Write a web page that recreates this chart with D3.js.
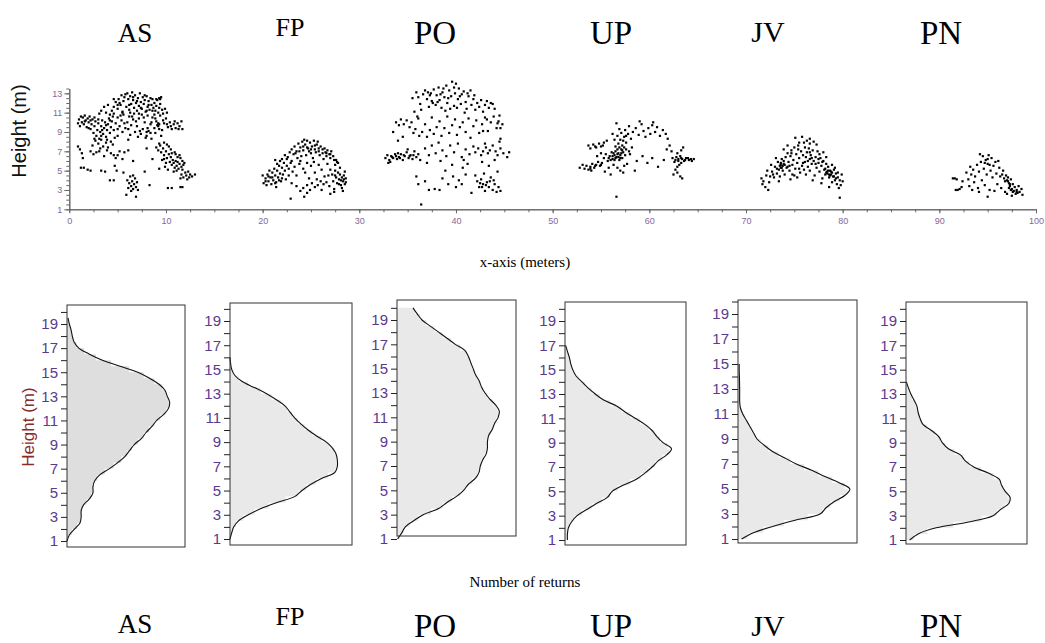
<!DOCTYPE html>
<html>
<head>
<meta charset="utf-8">
<script src="https://cdn.jsdelivr.net/npm/d3@7"></script>
<style>
  body { margin: 0; background: #fff; }
</style>
</head>
<body>
<svg id="chart" width="1045" height="643"></svg>
<script>
'use strict';

// названия участков
const treeNames = ['AS', 'FP', 'PO', 'UP', 'JV', 'PN'];

// облака точек (x в метрах, высота в метрах)
const asPoints = [
  [4.4,11.2],[4.6,11.6],[4.8,12.1],[5.0,11.4],[5.1,12.4],[5.3,11.8],[5.4,12.8],[5.5,11.1],[5.6,12.2],[5.8,12.9],
  [5.9,11.6],[6.0,13.0],[6.1,12.4],[6.2,11.3],[6.3,12.7],[6.4,11.9],[6.5,13.1],[6.6,12.3],[6.7,11.5],[6.8,12.8],
  [6.9,12.0],[7.0,11.2],[7.1,12.5],[7.2,11.7],[7.3,13.0],[7.4,12.1],[7.5,11.4],[7.6,12.6],[7.7,11.9],[7.8,12.3],
  [7.9,11.1],[8.0,12.7],[8.1,11.6],[8.2,12.2],[8.3,11.3],[8.4,12.5],[8.5,11.8],[8.6,12.4],[8.7,11.5],[8.8,12.0],
  [8.9,11.2],[9.0,11.7],[9.1,12.3],[9.2,11.0],[9.3,11.5],[9.4,11.9],[9.6,11.3],[9.7,10.9],[9.9,11.4],[10.1,11.0],
  [9.3,12.5],[9.4,12.4],[9.5,12.6],[3.3,11.2],[3.6,11.6],[3.8,11.0],[4.0,11.8],[4.2,10.8],[3.1,10.9],
  [0.9,9.9],[1.0,10.3],[1.1,9.6],[1.2,10.6],[1.3,10.0],[1.4,10.5],[1.5,9.8],[1.6,10.7],[1.7,10.2],[1.8,9.5],
  [1.9,10.4],[2.0,10.0],[2.1,10.6],[2.2,9.3],[2.3,9.8],[2.4,10.3],[2.5,8.9],[2.6,9.6],[2.7,10.1],[2.8,8.6],
  [2.9,9.2],[3.0,9.9],[3.1,8.3],[3.2,9.0],[3.3,9.6],[3.4,10.2],[3.5,8.8],[3.6,9.4],[3.7,10.0],[3.8,8.5],
  [3.9,9.2],[4.0,9.8],[4.1,10.4],[4.2,8.9],[4.3,9.5],[4.4,10.1],[4.5,10.6],[4.6,9.2],[4.8,9.9],[5.0,10.5],
  [5.2,9.6],[5.4,10.2],[5.6,10.8],[5.8,9.4],[6.0,10.0],[6.2,10.6],[6.4,9.7],[6.6,10.3],[6.8,9.0],[7.0,9.6],
  [7.2,10.4],[7.4,8.8],[7.6,9.3],[7.8,10.0],[8.0,8.6],[8.2,9.1],[8.4,9.8],[8.6,10.5],[8.8,9.4],[9.0,10.1],
  [9.2,9.6],[9.4,10.7],[9.6,9.2],[9.8,9.9],[10.0,10.4],[10.2,9.5],[10.4,10.0],[10.6,9.3],[10.8,9.8],[11.0,9.4],
  [11.2,9.9],[11.4,9.6],[11.6,10.1],[11.7,9.3],[8.1,10.7],[7.5,10.8],[6.7,10.9],[5.5,11.0],[8.9,8.9],[9.5,8.6],
  [8.5,8.3],[7.1,8.5],[6.3,8.7],[5.0,8.6],[9.1,9.7],[9.3,9.8],[9.2,9.9],[8.0,9.0],[8.4,8.9],[7.9,8.4],
  [2.7,8.1],[3.0,7.8],[3.3,8.2],[3.5,7.5],[3.8,7.9],[4.0,7.4],[4.3,8.0],[4.5,7.7],[2.4,7.6],[3.2,7.3],
  [0.9,7.5],[1.1,7.2],[1.3,6.8],[1.4,6.3],[1.2,5.3],[1.5,5.3],[1.9,5.1],[2.2,5.0],[2.5,6.7],[2.8,6.9],
  [3.1,7.0],[3.3,5.0],[2.2,7.0],[3.6,6.5],[3.9,7.1],[4.3,6.8],[4.6,6.6],[4.8,6.3],[5.0,6.6],[4.7,5.5],
  [4.9,5.0],[5.2,7.0],[5.5,6.2],[5.7,6.9],[6.1,7.1],[4.2,4.0],[4.6,4.0],[5.6,4.8],[6.6,6.0],[3.7,4.9],
  [6.0,4.0],[6.2,3.7],[6.3,4.4],[6.4,3.4],[6.5,3.9],[6.6,3.1],[6.7,3.6],[6.8,4.2],[6.9,3.3],[7.0,3.8],
  [6.4,2.9],[6.6,4.5],[7.1,3.0],[5.9,2.5],[6.9,2.3],[6.1,3.2],
  [9.0,7.4],[9.2,7.1],[9.4,7.6],[9.5,6.9],[9.7,7.3],[9.8,6.6],[10.0,7.0],[10.1,6.3],[10.3,6.7],[10.4,5.9],
  [10.5,6.4],[10.6,5.6],[10.7,6.1],[10.8,5.8],[10.9,5.3],[11.0,6.0],[11.1,5.5],[11.2,5.9],[11.3,5.2],[11.4,5.7],
  [11.5,6.3],[11.6,5.4],[11.7,6.0],[11.8,5.6],[10.2,5.1],[9.9,5.4],[9.6,6.1],[10.3,7.5],[11.0,6.7],[9.3,7.8],
  [10.8,4.9],[11.9,5.8],[11.6,4.6],[11.8,4.3],[12.0,4.8],[12.1,4.5],[12.3,4.9],[12.5,4.6],[12.7,4.4],[13.0,4.6],
  [12.2,4.1],[11.5,4.2],[8.3,3.5],[10.2,3.2],[10.6,3.2],[11.5,3.3],[11.7,3.3],[9.3,5.2],[8.6,6.2],[7.8,4.9],[8.0,7.3],
  [2.2,10.2],[2.6,10.5],[3.0,10.3],[3.4,9.2],[3.8,9.7],[4.2,10.2],[4.6,10.9],[5.0,9.3],[5.3,10.7],[5.7,9.9],
  [6.1,9.3],[6.5,10.6],[6.9,10.1],[7.3,9.1],[7.7,10.5],[8.1,9.4],[8.5,10.0],[8.9,10.4],[9.3,9.3],[9.7,10.2],
  [10.1,9.8],[10.5,9.6],[10.9,10.1],[11.3,9.3],[5.2,12.0],[5.7,12.6],[6.2,11.8],[6.6,12.6],[7.0,12.2],[7.4,11.5],
  [7.8,12.8],[8.2,11.8],[8.6,11.2],[9.0,12.4],[5.0,11.8],[4.6,12.4],[6.3,11.0],[7.2,10.9],[8.0,11.2],[8.8,10.8],
  [2.0,9.4],[1.6,10.1],[2.6,8.3],[3.3,8.6],[3.9,8.2],[4.7,8.4],[5.5,9.0],[6.1,8.2],[9.8,7.9],[10.1,7.7],
  [10.5,7.2],[10.9,6.9],[11.2,6.4],[11.4,6.6],[10.6,6.8],[9.8,6.2],[11.7,5.1],[12.4,4.3],[11.1,5.0],[10.0,5.8]
];

const fpPoints = [
  [23.0,7.2],[23.3,7.5],[23.5,7.0],[23.7,7.8],[23.9,7.4],[24.1,8.0],[24.2,7.1],[24.4,7.7],[24.6,8.1],[24.7,7.3],
  [24.9,7.9],[25.1,7.5],[25.3,8.1],[25.4,7.2],[25.6,7.7],[25.8,7.0],[26.0,7.5],[26.2,6.8],[26.4,7.3],[26.5,6.9],
  [26.7,7.1],[26.9,6.7],[27.1,7.0],[27.3,6.5],[27.0,6.3],[26.6,6.5],[25.9,6.6],[25.5,6.9],[25.0,6.8],[24.5,6.6],
  [24.0,6.5],[23.6,6.3],[23.2,6.7],[22.8,6.9],[22.6,6.4],[22.3,6.6],[22.0,6.2],[21.8,6.0],[21.5,5.7],[21.3,6.1],
  [24.8,7.0],[25.2,6.3],[26.3,6.2],[27.6,6.1],[27.8,5.8],[27.5,5.6],[24.3,8.2],[25.7,8.0],
  [20.0,4.5],[20.1,3.7],[20.3,4.2],[20.4,3.5],[20.5,4.6],[20.6,3.9],[20.8,4.3],[20.9,3.6],[21.0,4.8],[21.1,4.0],
  [21.2,5.2],[21.3,4.5],[21.4,3.8],[21.5,5.0],[21.6,4.3],[21.7,5.5],[21.8,4.7],[21.9,3.9],[22.0,5.3],[22.1,4.6],
  [22.2,5.8],[22.3,5.0],[22.5,5.5],[22.7,4.5],[22.9,5.8],[23.1,4.9],[23.3,5.4],[20.7,5.0],[21.4,3.3],[22.4,4.1],[23.0,3.7],
  [23.8,5.7],[24.2,5.2],[24.6,5.8],[25.0,5.5],[25.4,4.8],[25.8,5.6],[26.1,5.1],[26.4,4.4],[24.8,4.2],[23.5,4.5],
  [27.0,5.1],[27.2,4.6],[27.3,3.9],[27.5,5.0],[27.6,4.3],[27.7,3.7],[27.8,4.8],[27.9,4.1],[28.0,4.6],[28.1,3.5],
  [28.2,4.3],[28.3,3.9],[28.4,4.5],[28.5,3.6],[28.6,4.2],[28.2,3.2],[27.4,3.1],[26.9,3.4],[26.6,3.8],[26.3,3.6],
  [26.0,3.9],[25.7,3.5],[25.4,3.3],[25.1,3.7],[24.9,3.0],[24.6,3.5],[24.2,3.2],[23.9,2.9],[23.5,3.4],[22.9,2.1],
  [24.3,2.3],[24.6,2.7],[27.0,2.6],[27.4,2.8],[28.3,2.9],[26.1,3.0],[25.6,4.1],[27.7,5.9],[28.0,5.3],[28.5,4.9],
  [22.5,6.2],[23.0,6.0],[23.4,6.8],[23.8,7.0],[24.2,7.5],[24.6,7.4],[25.0,7.2],[25.4,7.6],[25.8,7.3],[26.2,7.2],
  [26.6,6.8],[27.0,6.7],[27.4,6.1],[21.0,4.3],[21.3,3.7],[21.7,4.0],[22.0,4.2],[20.3,3.9],[20.6,4.4],[28.1,4.0],
  [28.4,4.1],[27.9,3.6],[28.6,3.8],[27.5,4.5],[22.7,5.2],[23.9,6.0],[25.3,5.9],[26.7,5.7],[24.4,4.8],[26.8,4.5]
];

const poPoints = [
  [35.9,13.1],[36.1,12.6],[36.3,11.9],[36.6,12.9],[36.8,13.3],[37.0,12.4],[37.2,11.6],[37.4,13.0],[37.5,12.2],[37.7,13.4],
  [37.9,11.8],[38.0,12.8],[38.2,13.6],[38.3,12.3],[38.5,11.5],[38.6,13.1],[38.8,12.6],[39.0,13.8],[39.1,12.0],[39.3,13.3],
  [39.5,12.7],[39.6,14.2],[39.8,11.7],[39.9,13.0],[40.0,14.0],[40.2,12.4],[40.3,13.5],[40.5,11.9],[40.6,12.9],[40.8,13.2],
  [41.0,12.1],[41.1,11.4],[41.3,12.7],[41.5,13.3],[41.6,11.8],[41.8,12.4],[42.0,11.3],[42.2,12.0],[42.4,11.6],[42.6,12.3],
  [42.8,11.1],[43.0,11.8],[43.2,12.2],[43.4,11.5],[43.6,12.0],[43.8,11.9],[44.0,11.4],[37.6,12.0],[38.9,11.2],[40.9,11.0],
  [36.4,11.3],[35.7,11.1],[35.5,12.5],[36.0,10.6],[41.9,12.8],[39.4,11.4],
  [33.8,10.0],[34.1,9.7],[34.3,10.3],[34.6,9.8],[34.9,10.2],[35.2,9.5],[35.4,10.0],[35.6,8.9],[35.8,9.3],[36.1,10.4],
  [36.2,8.6],[36.5,9.0],[36.8,9.8],[37.0,8.5],[37.3,9.2],[37.5,10.5],[37.7,8.8],[38.0,9.5],[38.3,10.1],[38.5,8.6],
  [38.8,9.4],[39.1,10.6],[39.3,8.9],[39.6,9.7],[39.9,10.3],[40.1,8.7],[40.4,9.5],[40.7,10.0],[41.0,9.0],[41.3,10.4],
  [41.5,8.4],[41.8,9.6],[42.1,10.2],[42.4,8.9],[42.7,9.8],[43.0,10.5],[43.3,9.1],[43.6,10.0],[43.9,10.6],[44.2,9.4],
  [44.4,10.1],[44.6,8.3],[44.8,9.8],[44.5,10.7],[34.5,8.5],[33.5,9.0],[34.0,8.1],
  [32.7,6.3],[32.9,6.6],[33.1,6.1],[33.3,6.5],[33.5,6.3],[33.7,6.7],[33.9,6.2],[34.1,6.4],[34.3,6.7],[34.5,6.1],
  [34.7,6.5],[34.9,6.9],[35.1,6.3],[35.3,6.6],[35.5,6.2],[35.7,7.0],[35.9,6.4],[36.1,6.7],[36.3,6.1],[33.2,5.9],
  [34.0,6.8],[35.0,7.2],[33.0,5.8],
  [36.8,7.3],[37.2,6.6],[37.5,7.6],[37.9,6.8],[38.2,7.9],[38.6,7.1],[39.0,6.5],[39.4,7.6],[39.8,6.9],[40.2,7.8],
  [40.6,6.4],[41.0,7.2],[41.4,6.7],[41.8,7.5],[42.0,6.9],[42.3,7.3],[42.6,6.6],[42.8,7.0],[43.1,7.4],[43.3,6.8],
  [43.5,7.1],[43.8,7.6],[44.1,7.0],[44.3,6.6],[44.6,7.3],[44.9,6.8],[45.3,6.4],[45.5,6.9],[43.0,7.8],[44.5,8.0],
  [37.0,5.8],[38.4,6.0],[39.6,5.6],[40.8,6.1],[41.2,5.7],[42.7,5.9],[43.4,5.5],[44.0,6.1],
  [35.9,4.4],[36.1,3.6],[36.8,3.9],[37.2,3.0],[37.8,3.1],[38.3,3.0],[38.6,4.2],[39.2,3.6],[39.7,4.4],[40.0,3.3],
  [40.3,4.0],[40.6,3.6],[41.0,4.6],[41.6,2.7],[42.0,4.5],[42.2,3.9],[42.4,3.3],[42.6,4.1],[42.8,3.6],[43.0,2.9],
  [43.2,3.8],[43.4,3.3],[43.6,4.3],[43.8,3.0],[44.0,3.6],[44.2,2.8],[44.4,3.3],[44.6,2.9],[42.9,4.7],[43.9,4.0],
  [36.4,1.5],[38.9,5.0],[40.7,5.3],[44.3,4.9],
  [37.3,12.8],[38.1,12.1],[38.7,13.5],[39.2,12.5],[39.8,13.6],[40.4,12.7],[41.2,13.0],[37.1,13.1],[38.4,12.9],[40.1,11.5],
  [33.4,6.4],[33.8,6.5],[34.2,6.3],[34.6,6.6],[35.2,6.5],[35.6,6.6],[42.7,3.3],[43.1,3.5],[43.5,3.9],[42.5,3.7],
  [44.3,9.9],[44.6,9.4],[43.2,10.3],[42.8,9.1]
];

const upPoints = [
  [52.8,5.3],[53.1,5.6],[53.3,5.2],[53.5,5.5],[53.7,5.1],[53.9,5.4],[54.1,5.7],[54.3,5.3],[54.5,5.6],[54.7,5.9],
  [54.9,5.5],[55.1,5.8],[53.7,7.6],[53.9,7.3],[54.2,7.7],[54.5,7.4],[54.8,7.8],[55.0,7.5],[55.3,7.9],[55.6,8.1],
  [54.6,6.5],[55.0,6.8],[55.3,6.3],[55.5,6.7],[55.7,6.0],[55.9,6.5],[56.1,6.9],[56.2,6.2],[56.4,6.6],[56.5,7.0],
  [56.6,6.4],[56.8,6.8],[56.9,6.1],[57.0,6.6],[57.1,7.2],[57.2,6.3],[57.3,6.9],[57.4,5.5],[57.5,6.6],[56.3,5.6],
  [56.7,5.3],[57.0,5.0],[57.3,4.8],[56.0,4.6],[55.8,5.3],[56.5,7.5],[56.8,7.8],[57.0,8.2],[57.2,7.6],[57.4,8.5],
  [57.6,7.9],[57.8,8.8],[57.1,8.9],[56.7,8.6],[56.4,8.2],[56.2,8.8],[57.5,9.2],[57.9,9.6],[56.6,9.9],[58.1,8.3],
  [58.2,7.4],[58.0,6.7],[57.7,5.7],[58.3,9.0],[58.6,9.4],[58.9,8.7],[59.2,9.8],[59.4,9.1],[59.6,8.5],[59.9,9.4],
  [60.1,8.8],[60.3,9.7],[60.6,9.0],[60.8,9.5],[61.1,8.6],[61.4,9.2],[61.7,8.8],[61.9,8.3],[59.0,10.1],[60.4,10.0],
  [58.7,6.0],[59.3,6.5],[59.8,5.8],[60.3,6.3],[60.9,5.4],[61.5,6.1],[61.8,7.2],[62.1,7.6],[62.3,7.0],[62.4,6.3],
  [62.6,5.9],[62.8,6.4],[63.0,6.0],[63.2,6.5],[63.4,6.2],[63.6,6.0],[63.8,6.3],[64.1,6.1],[64.4,6.0],[64.6,6.2],
  [62.9,6.8],[63.3,7.1],[63.5,7.4],[63.1,5.6],[62.7,5.1],[62.9,4.8],[63.2,4.4],[63.4,4.2],[62.5,4.6],[56.6,2.3],
  [58.5,5.0],[55.4,4.9],[54.0,5.0],[57.9,7.0],[56.9,9.3],
  [56.2,6.5],[56.4,6.1],[56.5,6.3],[56.7,6.7],[56.8,6.4],[57.0,6.3],[57.1,6.8],[56.3,6.8],[55.8,6.3],[56.0,6.1],
  [56.9,7.4],[57.2,7.1],[56.7,7.2],[57.4,7.4],[57.6,7.2],[55.2,7.6],[54.4,7.5],[57.3,8.1],[57.6,8.6],[63.0,6.2],
  [63.3,6.3],[63.7,6.1],[64.0,6.3],[64.3,6.2],[62.7,6.1],[63.3,5.8],[62.9,5.4],[53.9,5.2],[54.4,5.5],[55.0,5.6]
];

const jvPoints = [
  [71.6,4.2],[71.7,3.6],[71.8,3.9],[72.0,3.3],[72.1,4.5],[72.3,3.0],[72.4,3.8],[72.2,5.0],[72.5,4.4],[72.7,4.9],
  [72.9,4.3],[73.0,5.4],[73.2,4.7],[73.3,5.9],[73.4,5.1],[73.5,4.4],[73.6,5.6],[73.7,6.2],[73.8,5.0],[73.9,5.7],
  [74.0,4.6],[74.1,6.4],[74.2,5.3],[74.3,6.8],[74.4,5.9],[74.5,5.0],[74.6,6.5],[74.7,7.1],[74.8,5.6],[74.9,6.1],
  [75.0,7.4],[75.1,5.2],[75.2,6.7],[75.3,5.8],[75.4,7.6],[75.5,6.3],[75.6,4.8],[75.7,7.0],[75.8,5.5],[75.9,6.6],
  [76.0,7.9],[76.1,5.9],[76.2,4.6],[76.3,6.9],[76.4,5.4],[76.5,7.3],[76.6,6.2],[76.6,7.8],[76.6,8.3],[76.6,5.0],
  [76.7,6.6],[76.8,5.7],[76.9,7.1],[77.0,6.0],[77.1,4.5],[77.2,6.4],[77.3,5.3],[77.4,7.0],[77.5,5.8],[77.6,4.9],
  [77.7,6.3],[77.8,5.5],[77.9,4.2],[78.0,6.0],[78.1,5.1],[78.2,4.6],[78.3,5.7],[78.4,4.9],[78.5,5.4],[78.6,4.3],
  [78.7,5.0],[78.8,4.6],[78.9,3.8],[79.0,4.4],[79.1,5.1],[79.2,4.0],[79.3,4.7],[79.4,3.6],[79.5,4.3],[79.6,3.2],
  [79.7,4.0],[79.8,3.5],[79.9,4.6],[80.0,3.9],[79.7,2.2],[78.6,3.3],[77.8,3.7],[76.9,4.0],[75.3,4.3],[74.6,4.1],
  [73.4,3.9],[75.1,8.4],[75.8,8.5],[74.3,7.6],[73.9,7.2],[77.3,7.7],[78.0,6.9],[78.3,6.4],[74.8,4.6],[73.1,6.3],
  [72.6,5.6],[76.3,8.1],[75.5,7.9],[77.0,8.0],[76.0,5.1],[75.0,4.5],[78.9,5.6],[79.2,5.3],[73.6,5.3],[73.8,5.5],
  [78.4,4.7],[78.6,4.6],[78.8,4.9],
  [73.2,5.2],[73.5,5.5],[73.7,5.3],[74.0,5.6],[73.6,5.8],[73.9,6.0],[74.3,5.4],[75.5,5.2],[75.9,5.8],[76.2,6.4],
  [76.4,6.0],[76.8,6.3],[77.2,5.7],[77.5,6.2],[77.9,5.9],[78.2,5.2],[78.3,4.8],[78.5,5.0],[78.7,4.5],[78.9,4.8],
  [79.1,4.4],[79.3,4.2],[79.5,4.8],[74.7,6.8],[75.4,7.2],[76.1,7.4],[76.6,6.9],[77.6,6.7],[74.5,5.5],[72.8,4.6]
];

const pnPoints = [
  [91.4,4.2],[91.6,4.2],[91.8,4.1],[91.7,3.0],[91.9,3.0],[92.1,3.1],[92.4,3.9],[92.8,4.8],[93.0,4.1],[93.1,3.4],
  [93.2,5.4],[93.3,4.6],[93.4,3.0],[93.5,5.1],[93.6,3.8],[93.7,4.4],[93.9,5.6],[94.0,3.2],[94.1,4.9],[94.3,5.9],
  [94.4,4.0],[94.5,6.5],[94.6,5.2],[94.7,3.5],[94.8,6.1],[94.9,4.6],[95.0,5.7],[95.1,6.6],[95.2,3.0],[95.3,5.0],
  [95.4,6.3],[95.5,4.3],[95.6,5.5],[95.7,2.9],[95.8,5.9],[95.9,4.7],[96.0,3.6],[96.2,5.3],[96.3,4.4],[96.4,3.2],
  [96.6,5.0],[96.7,4.2],[96.8,3.9],[96.9,4.5],[97.0,4.0],[97.1,4.3],[97.2,3.7],[97.3,3.4],[97.4,4.1],[97.5,3.1],
  [97.6,3.6],[97.7,2.9],[97.8,3.3],[97.9,2.6],[98.0,3.0],[98.1,2.7],[98.2,3.4],[98.3,2.8],[98.5,3.1],[98.6,2.5],
  [97.0,2.6],[96.8,2.8],[95.0,2.3],[97.5,2.4],[94.1,2.8],[92.3,3.3],[96.1,6.0],[94.2,6.7],
  [97.2,3.2],[97.4,3.0],[97.6,2.8],[97.1,3.9],[97.3,3.6],[95.2,5.6],[95.0,6.2],[94.7,5.8],[96.5,4.6],[98.0,2.8]
];

// вертикальные профили: высота (м) и относительное число отражений
const profileHeights = [1,1.5,2,2.5,3,3.5,4,4.5,5,5.5,6,6.5,7,7.5,8,8.5,9,9.5,10,10.5,
  11,11.5,12,12.5,13,13.5,14,14.5,15,15.5,16,16.5,17,17.5,18,18.5,19,19.5,20];

const asProfile = [0,0.02,0.065,0.11,0.12,0.12,0.14,0.19,0.22,0.22,0.235,0.28,0.36,0.43,0.49,0.53,0.57,0.63,0.67,0.72,
  0.76,0.82,0.86,0.87,0.85,0.83,0.78,0.70,0.60,0.45,0.30,0.19,0.10,0.06,0.045,0.035,0.02,0.008,null];
const fpProfile = [0,0.014,0.03,0.07,0.15,0.25,0.38,0.53,0.59,0.66,0.75,0.86,0.88,0.88,0.87,0.84,0.79,0.71,0.64,0.58,
  0.53,0.49,0.45,0.38,0.30,0.20,0.10,0.04,0.014,0.005,0,null,null,null,null,null,null,null,null];
const poProfile = [0.005,0.04,0.07,0.14,0.22,0.35,0.42,0.50,0.56,0.60,0.66,0.69,0.70,0.72,0.75,0.76,0.76,0.77,0.80,0.82,
  0.85,0.86,0.83,0.78,0.74,0.71,0.69,0.66,0.64,0.62,0.60,0.57,0.49,0.42,0.35,0.28,0.21,0.17,0.134];
const upProfile = [0.02,0.02,0.028,0.055,0.10,0.18,0.26,0.35,0.39,0.48,0.59,0.66,0.72,0.77,0.84,0.88,0.81,0.76,0.72,0.66,
  0.58,0.50,0.43,0.32,0.25,0.19,0.14,0.09,0.064,0.047,0.036,0.02,0.005,null,null,null,null,null,null];
const jvProfile = [0.03,0.13,0.29,0.48,0.69,0.74,0.81,0.90,0.94,0.85,0.73,0.62,0.49,0.39,0.29,0.22,0.16,0.13,0.10,0.07,
  0.04,0.02,0.014,0.014,0.014,0.013,0.012,0.01,0.01,null,null,null,null,null,null,null,null,null,null];
const pnProfile = [0.03,0.10,0.25,0.53,0.72,0.78,0.85,0.86,0.82,0.79,0.77,0.68,0.56,0.49,0.45,0.35,0.30,0.27,0.21,0.14,
  0.116,0.10,0.09,0.066,0.04,0.02,0.003,null,null,null,null,null,null,null,null,null,null,null,null];

// подписи делений
const xTickLabels = [0,10,20,30,40,50,60,70,80,90,100];
const yTickLabels = [1,3,5,7,9,11,13];
const profileTickLabels = [1,3,5,7,9,11,13,15,17,19];

const clouds = [asPoints, fpPoints, poPoints, upPoints, jvPoints, pnPoints];
const profiles = [asProfile, fpProfile, poProfile, upProfile, jvProfile, pnProfile];

const svg = d3.select('#chart');
const SANS = 'Liberation Sans, Arial, sans-serif';
const SERIF = 'Liberation Serif, Times New Roman, serif';

// ---------- верхний график: облака точек ----------
const x = d3.scaleLinear().domain([0, 100]).range([69.3, 1036]);
const y = d3.scaleLinear().domain([1, 13.5]).range([209.3, 88.5]);

const scatterG = svg.append('g');

// второстепенные деления
scatterG.append('g')
  .attr('transform', `translate(0,${y(1)})`)
  .call(d3.axisBottom(x).tickValues(d3.range(0, 100.1, 2.5)).tickSize(3).tickSizeOuter(0).tickFormat(''));
scatterG.append('g')
  .attr('transform', `translate(${x(0)},0)`)
  .call(d3.axisLeft(y).tickValues(d3.range(1, 13.6, 0.5)).tickSize(3).tickSizeOuter(0).tickFormat(''));

scatterG.append('g')
  .attr('transform', `translate(0,${y(1)})`)
  .call(d3.axisBottom(x).tickValues(xTickLabels).tickSize(4).tickSizeOuter(0).tickPadding(4));
scatterG.append('g')
  .attr('transform', `translate(${x(0)},0)`)
  .call(d3.axisLeft(y).tickValues(yTickLabels).tickSize(5).tickSizeOuter(0).tickPadding(2));

scatterG.selectAll('.domain, .tick line').attr('stroke', '#666');
scatterG.selectAll('.tick text')
  .attr('fill', '#84679a')
  .style('font-family', SANS)
  .style('font-size', '9px');

scatterG.append('text')
  .attr('transform', 'translate(26,131) rotate(-90)')
  .attr('text-anchor', 'middle')
  .style('font-family', SANS)
  .style('font-size', '20px')
  .attr('fill', '#111')
  .text('Height (m)');

// точки — маленькие квадраты
scatterG.append('g')
  .selectAll('rect')
  .data(clouds.flat())
  .enter()
  .append('rect')
  .attr('x', d => x(d[0]) - 1.1)
  .attr('y', d => y(d[1]) - 1.1)
  .attr('width', 2.2)
  .attr('height', 2.2)
  .attr('fill', '#000');

svg.append('text')
  .attr('x', 525).attr('y', 267)
  .attr('text-anchor', 'middle')
  .style('font-family', SERIF)
  .style('font-size', '15px')
  .text('x-axis (meters)');

// ---------- заголовки ----------
const titleX = [135, 290, 435, 611, 768, 941];
const titleSize = [27, 26, 33, 33, 30, 33];
const titleTopY = [42, 36, 44, 44, 42, 44];
const titleBottomY = [633, 625, 637, 637, 636, 637];

treeNames.forEach((name, i) => {
  [titleTopY[i], titleBottomY[i]].forEach(ty => {
    svg.append('text')
      .attr('x', titleX[i]).attr('y', ty)
      .attr('text-anchor', 'middle')
      .style('font-family', SERIF)
      .style('font-size', titleSize[i] + 'px')
      .attr('fill', '#000')
      .text(name);
  });
});

// ---------- нижние панели: профили ----------
const panelBoxes = [
  {left: 67, right: 185, top: 305, bottom: 547, y1: 541, y19: 324, fill: '#dedede'},
  {left: 230, right: 352, top: 303, bottom: 545, y1: 539, y19: 321, fill: '#e9e9e9'},
  {left: 397, right: 516, top: 300, bottom: 536, y1: 539, y19: 320, fill: '#e9e9e9'},
  {left: 565, right: 686, top: 302, bottom: 545, y1: 540, y19: 321, fill: '#e9e9e9'},
  {left: 738, right: 857, top: 300, bottom: 543, y1: 539, y19: 314, fill: '#e9e9e9'},
  {left: 906, right: 1027, top: 302, bottom: 544, y1: 540, y19: 321, fill: '#e9e9e9'}
];

panelBoxes.forEach((box, i) => {
  const px = d3.scaleLinear().domain([0, 1]).range([box.left, box.right]);
  const py = d3.scaleLinear().domain([1, 19]).range([box.y1, box.y19]);
  const g = svg.append('g');

  const rows = profileHeights.map((h, k) => ({h: h, v: profiles[i][k]}));

  // заливка — ступенчатая гистограмма
  const area = d3.area()
    .defined(d => d.v !== null)
    .y(d => py(d.h))
    .x0(px(0))
    .x1(d => px(d.v))
    .curve(d3.curveStep);

  g.append('path')
    .datum(rows)
    .attr('d', area)
    .attr('fill', box.fill);

  // сглаженная кривая поверх
  const line = d3.line()
    .defined(d => d.v !== null)
    .y(d => py(d.h))
    .x(d => px(d.v))
    .curve(d3.curveCatmullRom);

  g.append('path')
    .datum(rows)
    .attr('d', line)
    .attr('fill', 'none')
    .attr('stroke', '#111')
    .attr('stroke-width', 1.1);

  g.append('rect')
    .attr('x', box.left).attr('y', box.top)
    .attr('width', box.right - box.left)
    .attr('height', box.bottom - box.top)
    .attr('fill', 'none')
    .attr('stroke', '#333')
    .attr('stroke-width', 1);

  const ax = g.append('g')
    .attr('transform', `translate(${box.left},0)`)
    .call(d3.axisLeft(py)
      .tickValues(d3.range(1, 20.5, 1))
      .tickSize(6)
      .tickSizeOuter(0)
      .tickPadding(3)
      .tickFormat(d => profileTickLabels.includes(d) ? d : ''));
  ax.select('.domain').remove();
  ax.selectAll('.tick line').attr('stroke', '#222');
  ax.selectAll('.tick text')
    .attr('fill', '#5b3a8e')
    .style('font-family', SANS)
    .style('font-size', '15px');
});

svg.append('text')
  .attr('transform', 'translate(34,427) rotate(-90)')
  .attr('text-anchor', 'middle')
  .style('font-family', SANS)
  .style('font-size', '17px')
  .attr('fill', '#8a2b2b')
  .text('Height (m)');

svg.append('text')
  .attr('x', 525).attr('y', 587)
  .attr('text-anchor', 'middle')
  .style('font-family', SERIF)
  .style('font-size', '15px')
  .text('Number of returns');
</script>
</body>
</html>
